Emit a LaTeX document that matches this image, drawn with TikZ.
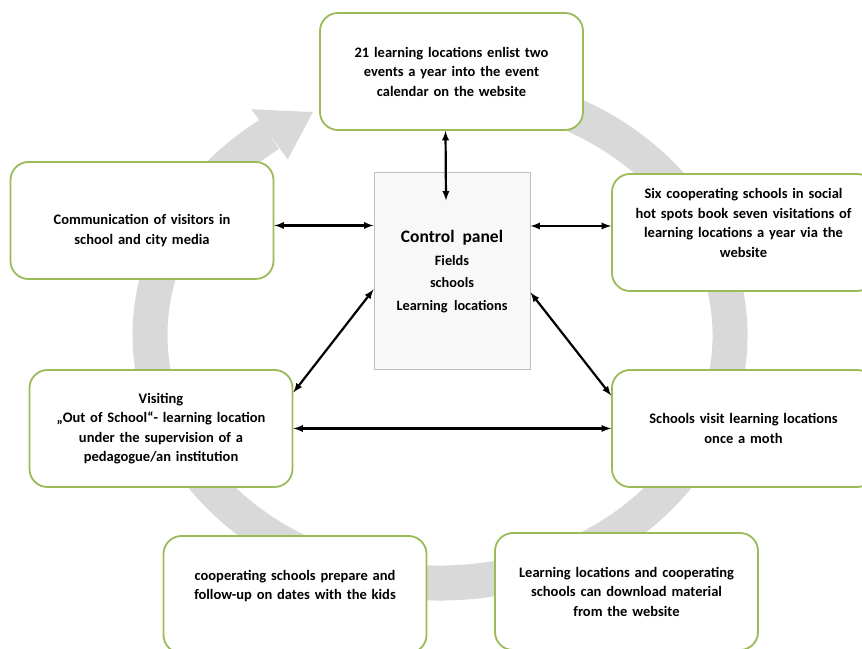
\documentclass[tikz,border=0pt]{standalone}
\usepackage{fontspec}
\setmainfont{Carlito}

\definecolor{boxgreen}{HTML}{9BBB59}
\definecolor{ringgray}{HTML}{D9D9D9}
\definecolor{panelfill}{HTML}{F8F8F8}
\definecolor{panelline}{HTML}{BFBFBF}

\begin{document}
\begin{tikzpicture}[x=1pt, y=1pt,
  stage/.style={draw=boxgreen, line width=1.8pt, fill=white, rounded corners=18pt,
    minimum width=263pt, minimum height=117pt, text width=255pt, inner sep=4pt,
    align=center, font={\bfseries\fontsize{14.5}{19.5}\selectfont\spaceskip=0.36em\relax}},
  panel/.style={draw=panelline, line width=1pt, fill=panelfill,
    minimum width=156pt, minimum height=197pt, align=center,
    font={\bfseries\fontsize{14.3}{22.5}\selectfont}},
  link/.style={<->, >=latex, line width=2.2pt}]

\useasboundingbox (0,0) rectangle (862,648);

% grey cycle behind the boxes
\coordinate (ring) at (440,313);
\draw[ringgray, line width=35pt] ([shift={(100:290 and 248)}]ring)
  arc[start angle=100, end angle=-234, x radius=290, y radius=248];
\fill[ringgray] ([shift={(126:321 and 279)}]ring) -- ([shift={(116:290 and 248)}]ring)
  -- ([shift={(126:259 and 217)}]ring) -- cycle;

% boxes
\node[panel] (panel) at (452,376.5) {{\fontsize{17.5}{22.5}\selectfont Control\ \ panel}\\Fields\\schools\\Learning\ \ locations};

\node[stage] (events) at (451.5,576.5) {21 learning locations enlist two\\events a year into the event\\calendar on the website};
\node[stage] (comm) at (142,427.5) {\mbox{}\\[11pt]Communication of visitors in\\school and city media};
\node[stage] (book) at (743.5,415.5) {Six cooperating schools in social\\hot spots book seven visitations of\\learning locations a year via the\\website\\\mbox{}};
\node[stage] (visit) at (161,219.5) {Visiting\\„Out of School“- learning location\\under the supervision of a\\pedagogue/an institution};
\node[stage] (monthly) at (743.5,219.5) {Schools visit learning locations\\once a moth};
\node[stage] (prepare) at (295,53.5) {cooperating schools prepare and\\follow-up on dates with the kids\\\mbox{}};
\node[stage] (download) at (626.5,56.5) {Learning locations and cooperating\\schools can download material\\from the website};

% arrows
\draw[link, transform canvas={xshift=-6pt}] (events.south) -- ([yshift=-28pt]panel.north);
\draw[link, transform canvas={yshift=-5pt}] (comm.east) -- (comm.east -| panel.west);
\draw[link, transform canvas={yshift=6.5pt}] (panel.east |- book.west) -- (book.west);
\draw[link] ([yshift=-18pt]panel.west) -- ([yshift=36pt]visit.east);
\draw[link] ([yshift=-21pt]panel.east) -- ([yshift=33pt]monthly.west);
\draw[link] (visit.east) -- (monthly.west);

\end{tikzpicture}
\end{document}
